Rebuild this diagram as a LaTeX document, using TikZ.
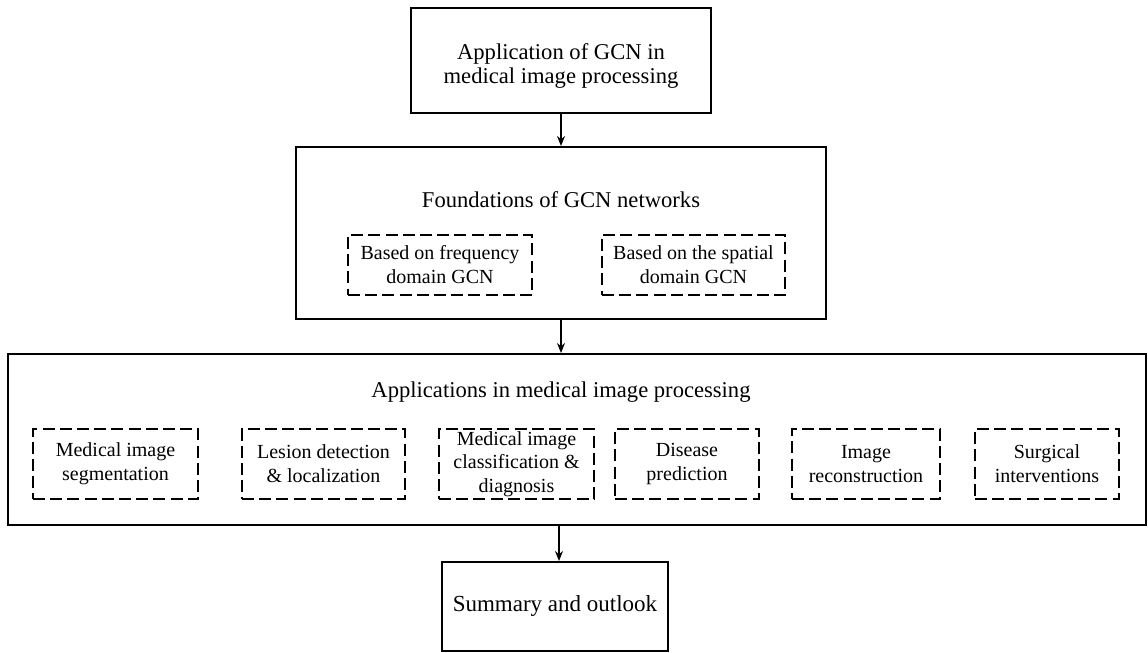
\documentclass[tikz,border=0pt]{standalone}
\usepackage{fontspec}
\setmainfont{Liberation Serif}
\usetikzlibrary{arrows.meta,calc}
\tikzset{
  mainbox/.style={draw, line width=1pt, inner sep=0pt, anchor=center},
  dbox/.style={draw, dashed, dash pattern=on 6pt off 2.6pt, line width=1pt, inner sep=0pt,
    align=center, font=\fontsize{10}{12}\selectfont, anchor=center},
  bigtext/.style={align=center, font=\fontsize{11.3}{11.8}\selectfont, inner sep=0pt},
  arr/.style={line width=0.8pt, -{Stealth[length=5pt,width=4pt]}}
}
\begin{document}
\begin{tikzpicture}[x=0.5pt,y=-0.5pt]
\useasboundingbox (0,0) rectangle (1148,653);
% top box
\node[mainbox, minimum width=150pt, minimum height=52.5pt] (b1) at (561,60.5) {};
\node[bigtext] (t1) at (561,66) {Application of GCN in\\medical image processing};
% foundations box
\node[mainbox, minimum width=265pt, minimum height=86pt] (b2) at (561,233) {};
\node[bigtext] (t2) at (561,200) {Foundations of GCN networks};
\node[dbox, minimum width=92pt, minimum height=30pt] (f1) at (440,265) {Based on frequency\\domain GCN};
\node[dbox, minimum width=91.5pt, minimum height=30pt] (f2) at (693.5,265) {Based on the spatial\\domain GCN};
% applications box
\node[mainbox, minimum width=569pt, minimum height=85.5pt] (b3) at (577,439.5) {};
\node[bigtext] (t3) at (561,392) {Applications in medical image processing};
\node[dbox, minimum width=82.5pt, minimum height=35pt] (a1) at (115.5,464) {Medical image\\segmentation};
\node[dbox, minimum width=81.5pt, minimum height=35pt] (a2) at (323.5,464) {Lesion detection\\\& localization};
\node[dbox, minimum width=77.5pt, minimum height=35pt, font=\fontsize{10}{11.8}\selectfont] (a3) at (516.5,464) {Medical image\\classification \&\\diagnosis};
\node[dbox, minimum width=72pt, minimum height=35pt] (a4) at (687,464) {Disease\\prediction};
\node[dbox, minimum width=74pt, minimum height=35pt] (a5) at (866,464) {Image\\reconstruction};
\node[dbox, minimum width=72pt, minimum height=35pt] (a6) at (1047,464) {Surgical\\interventions};
% summary box
\node[mainbox, minimum width=113pt, minimum height=44.5pt, font=\fontsize{11.5}{13}\selectfont] (b4) at (555,606.5) {Summary and outlook};
% arrows
\draw[arr] (b1.south) -- (b2.north);
\draw[arr] (b2.south) -- (b2.south |- b3.north);
\draw[arr] ($(b4.north |- b3.south)+(4,0)$) -- ($(b4.north)+(4,0)$);
\end{tikzpicture}
\end{document}
